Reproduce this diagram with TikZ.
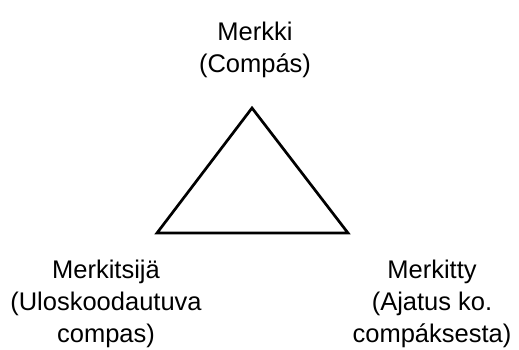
\documentclass[tikz,border=0pt]{standalone}
\usepackage{fontspec}
\setmainfont{Liberation Sans}
\begin{document}
\begin{tikzpicture}[x=1pt,y=-1pt]
\useasboundingbox (0,0) rectangle (519,349);

% Sommets du triangle
\coordinate (merkki) at (252,108);
\coordinate (merkitsija) at (157,233);
\coordinate (merkitty) at (348,233);

\draw[line width=2.7pt, line join=miter] (merkki) -- (merkitsija) -- (merkitty) -- cycle;

% Etiquettes
\node[inner sep=0] (lmerkki) at (255,50) {\parbox{200pt}{\centering\fontsize{25.5}{32}\selectfont Merkki\\(Compás)}};
\node[inner sep=0] (lmerkitsija) at (106,304) {\parbox{200pt}{\centering\fontsize{25.5}{32}\selectfont Merkitsijä\\(Uloskoodautuva\\compas)}};
\node[inner sep=0] (lmerkitty) at (432,304) {\parbox{200pt}{\centering\fontsize{25.5}{32}\selectfont Merkitty\\(Ajatus ko.\\compáksesta)}};

\end{tikzpicture}
\end{document}
